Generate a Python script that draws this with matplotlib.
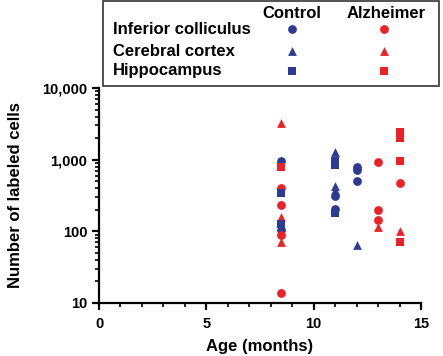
import matplotlib
matplotlib.use("Agg")
import matplotlib.pyplot as plt
from matplotlib.patches import Rectangle
from matplotlib.ticker import FixedLocator, LogLocator, NullFormatter

plt.rcParams['font.family'] = ['Liberation Sans', 'DejaVu Sans']
plt.rcParams['font.weight'] = 'bold'

blue = '#2e3b96'
red = '#ec2227'

# (x = age in months, y = number of labeled cells)
ctrl_ic_x = [8.5, 8.5, 11, 11, 12, 12, 12]
ctrl_ic_y = [950, 103, 307, 206, 800, 720, 500]
alz_ic_x = [8.5, 8.5, 8.5, 8.5, 13, 13, 13, 14]
alz_ic_y = [400, 234, 88, 14, 920, 200, 145, 480]
ctrl_cx_x = [11, 11, 11, 12]
ctrl_cx_y = [1300, 430, 380, 65]
alz_cx_x = [8.5, 8.5, 8.5, 13, 14]
alz_cx_y = [3300, 160, 70, 115, 100]
ctrl_hp_x = [8.5, 8.5, 11, 11, 11]
ctrl_hp_y = [340, 128, 950, 850, 182]
alz_hp_x = [8.5, 14, 14, 14, 14]
alz_hp_y = [800, 2400, 2000, 950, 72]

regions = ['Inferior colliculus', 'Cerebral cortex', 'Hippocampus']
markers = ['o', '^', 's']

fig = plt.figure(figsize=(4.43, 3.56), dpi=100)
ax = fig.add_axes([99 / 443, 1 - 303 / 356, 322 / 443, 215 / 356])

series = [
    (ctrl_ic_x, ctrl_ic_y, 'o', blue),
    (alz_ic_x, alz_ic_y, 'o', red),
    (ctrl_cx_x, ctrl_cx_y, '^', blue),
    (alz_cx_x, alz_cx_y, '^', red),
    (ctrl_hp_x, ctrl_hp_y, 's', blue),
    (alz_hp_x, alz_hp_y, 's', red),
]
for xs, ys, m, c in series:
    ax.scatter(xs, ys, marker=m, s=40, color=c, linewidths=0, zorder=3, clip_on=False)

ax.set_yscale('log')
ax.set_ylim(10, 10000)
ax.set_xlim(0, 15)
ax.yaxis.set_major_locator(FixedLocator([10, 100, 1000, 10000]))
ax.set_yticklabels(['10', '100', '1,000', '10,000'])
ax.yaxis.set_minor_locator(LogLocator(base=10, subs=range(2, 10)))
ax.yaxis.set_minor_formatter(NullFormatter())
ax.set_xticks([0, 5, 10, 15])
ax.set_xticks(range(0, 16), minor=True)

for s in ['top', 'right']:
    ax.spines[s].set_visible(False)
for s in ['left', 'bottom']:
    ax.spines[s].set_linewidth(1.6)
ax.tick_params(which='major', length=5, width=1.6, labelsize=10.5)
ax.tick_params(axis='x', which='major', pad=5)
ax.tick_params(which='minor', length=3, width=1.2)

ax.set_xlabel('Age (months)', fontsize=12, fontweight='bold', labelpad=6)
ax.set_ylabel('Number of labeled cells', fontsize=12, fontweight='bold', labelpad=14)

# legend box drawn in figure pixels
def fx(px):
    return px / 443

def fy(py):
    return 1 - py / 356

fig.patches.append(Rectangle((fx(103), fy(86)), fx(439) - fx(103), fy(1) - fy(86),
                             transform=fig.transFigure, fill=False, lw=1.2,
                             edgecolor='#333333'))
fig.text(fx(292), fy(13), 'Control', ha='center', va='center', fontsize=12, fontweight='bold')
fig.text(fx(386), fy(13), 'Alzheimer', ha='center', va='center', fontsize=12, fontweight='bold')
row_y = [29, 51, 71]
for name, m, py in zip(regions, markers, row_y):
    fig.text(fx(113), fy(py), name, ha='left', va='center', fontsize=12, fontweight='bold')
    ax.scatter([fx(292)], [fy(py)], marker=m, s=40, color=blue, linewidths=0,
               transform=fig.transFigure, clip_on=False)
    ax.scatter([fx(384)], [fy(py)], marker=m, s=40, color=red, linewidths=0,
               transform=fig.transFigure, clip_on=False)

fig.savefig('out.png', dpi=100)
